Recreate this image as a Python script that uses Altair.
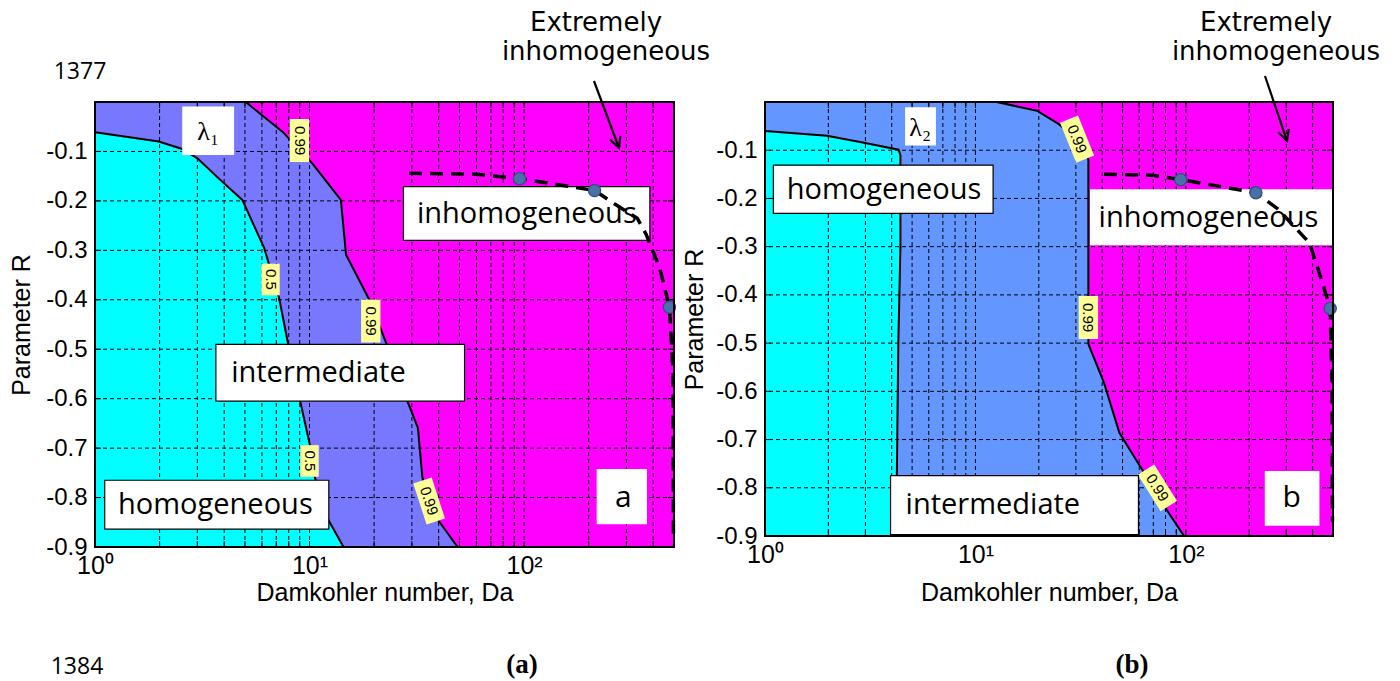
import altair as alt
import pandas as pd

# ---------------- values ----------------
# Panel (a): lambda_1 contour 0.5 (cyan | blue) and 0.99 (blue | magenta)
a_c05_R = [-0.061, -0.080, -0.095, -0.114, -0.155, -0.198, -0.295, -0.396, -0.490, -0.598, -0.699, -0.760, -0.847, -0.900]
a_c05_Da = [1.00, 1.98, 2.55, 3.00, 3.78, 4.86, 6.14, 7.21, 7.95, 8.97, 10.1, 10.6, 12.3, 14.4]
a_c99_R = [0.000, -0.060, -0.124, -0.198, -0.309, -0.400, -0.490, -0.590, -0.659, -0.760, -0.827, -0.900]
a_c99_Da = [5.04, 7.48, 10.3, 14.0, 14.8, 19.0, 22.9, 27.7, 32.0, 33.6, 37.0, 49.0]
# "extremely inhomogeneous" boundary (dashed) and its marked points
a_ext_Da = [29.1, 60.0, 95.3, 213, 266, 337, 371, 429, 476, 494, 497]
a_ext_R = [-0.144, -0.146, -0.155, -0.179, -0.207, -0.235, -0.268, -0.336, -0.415, -0.540, -0.880]
a_pts_Da = [95.3, 213, 476]
a_pts_R = [-0.155, -0.179, -0.415]
a_lab_txt = ["0.99", "0.5", "0.99", "0.5", "0.99"]
a_lab_Da = [8.98, 6.58, 19.3, 10.0, 36.1]
a_lab_R = [-0.078, -0.359, -0.443, -0.726, -0.807]
a_lab_ang = [90, 90, 90, 90, 72]

# Panel (b): lambda_2
b_c05_R = [-0.060, -0.070, -0.084, -0.099, -0.110, -0.300, -0.500, -0.700, -0.900]
b_c05_Da = [1.00, 1.97, 2.91, 4.31, 4.40, 4.40, 4.30, 4.25, 4.20]
b_c99_R = [0.000, -0.018, -0.046, -0.080, -0.119, -0.300, -0.502, -0.582, -0.686, -0.769, -0.845, -0.900]
b_c99_Da = [12.6, 19.6, 24.9, 31.0, 34.4, 34.4, 34.4, 40.8, 48.3, 63.3, 80.8, 98.0]
b_ext_Da = [40.8, 70.0, 94.5, 215, 274, 386, 425, 485, 495, 497]
b_ext_R = [-0.150, -0.152, -0.161, -0.188, -0.222, -0.292, -0.347, -0.428, -0.590, -0.870]
b_pts_Da = [94.5, 215, 485]
b_pts_R = [-0.161, -0.188, -0.428]
b_lab_txt = ["0.99", "0.99", "0.99"]
b_lab_Da = [30.4, 34.4, 73.2]
b_lab_R = [-0.077, -0.447, -0.800]
b_lab_ang = [68, 90, 58]

# axes
x_major = [1, 10, 100]
x_minor = [2, 3, 4, 5, 6, 7, 8, 9, 10, 20, 30, 40, 50, 60, 70, 80, 90, 100, 200, 300, 400]
y_ticks = [-0.9, -0.8, -0.7, -0.6, -0.5, -0.4, -0.3, -0.2, -0.1]
y_grid = [-0.8, -0.7, -0.6, -0.5, -0.4, -0.3, -0.2, -0.1]

# annotation boxes in data coordinates: (Da1, Da2, R1, R2, bordered)
a_boxes = [(2.55, 4.45, -0.009, -0.107, False), (27.4, 386, -0.171, -0.280, True),
           (3.66, 52.8, -0.490, -0.605, True), (1.11, 12.3, -0.765, -0.864, True),
           (218, 374, -0.742, -0.854, False)]
a_texts = [("λ₁", 3.37, -0.060, 26), ("inhomogeneous", 103, -0.226, 29),
           ("intermediate", 11.0, -0.548, 29), ("homogeneous", 3.64, -0.815, 29), ("a", 290, -0.800, 30)]
b_boxes = [(4.63, 6.49, -0.011, -0.090, False), (1.096, 12.13, -0.131, -0.231, True),
           (35.0, 500, -0.181, -0.297, False), (3.95, 59.5, -0.775, -0.897, True),
           (237, 431, -0.765, -0.879, False)]
b_texts = [("λ₂", 5.46, -0.053, 26), ("homogeneous", 3.68, -0.182, 29), ("inhomogeneous", 128, -0.240, 29),
           ("intermediate", 12.1, -0.836, 29), ("b", 318, -0.822, 30)]

CYAN = "#00FFFF"
MAGENTA = "#FF00FF"
BLUE_A = "#7878FF"
BLUE_B = "#6496FF"
YELLOW = "#FFFF99"
SANS = "Liberation Sans, Arial, sans-serif"
BOXF = "Open Sans, sans-serif"

XS = alt.Scale(type="log", domain=[1, 500], nice=False)
YS = alt.Scale(domain=[-0.9, 0], nice=False, zero=False)

SHAPE_LONG = "M-1,-0.45L1,-0.45L1,0.45L-1,0.45Z"
SHAPE_SHORT = "M-1,-0.58L1,-0.58L1,0.58L-1,0.58Z"
ARROW_V = "M-0.5,-1L0,0L0.5,-1"


def one():
    return pd.DataFrame({"k": [0]})


def txt(t, px, py, size, font, weight="normal", align="center", baseline="alphabetic"):
    return alt.Chart(pd.DataFrame({"t": [t]})).mark_text(
        fontSize=size, font=font, fontWeight=weight, align=align, baseline=baseline, color="black"
    ).encode(x=alt.value(px), y=alt.value(py), text="t:N")


def panel(W, H, blue, c05R, c05D, c99R, c99D, extD, extR, ptD, ptR, labT, labD, labR, labA,
          boxes, texts, tag, ytitle_x, xtitle_y, arrow, anchor):
    xaxis = alt.Axis(values=x_major, grid=False, ticks=False, domain=False,
                     labelExpr="datum.value == 1 ? '10⁰' : (datum.value == 10 ? '10¹' : '10²')",
                     labelFont=SANS, labelFontSize=25, labelColor="black", labelPadding=6,
                     labelBaseline="top", labelFlush=False, labelOverlap=False,
                     title="Damkohler number, Da", titleFont=SANS, titleFontSize=25,
                     titleFontWeight="normal", titleColor="black", titleY=xtitle_y,
                     titleBaseline="alphabetic")
    yaxis = alt.Axis(values=y_ticks, grid=False, ticks=False, domain=False,
                     labelExpr="'-' + format(abs(datum.value), '.1f')",
                     labelFont=SANS, labelFontSize=24, labelColor="black", labelPadding=8,
                     labelFlush=False, labelOverlap=False,
                     title="Parameter R", titleFont=SANS, titleFontSize=25, titleFontWeight="normal",
                     titleColor="black", titleX=ytitle_x, titleY=H / 2, titleAngle=270,
                     titleAlign="center", titleBaseline="alphabetic")

    d99 = pd.DataFrame({"R": c99R, "Da": c99D, "base": 1.0, "i": range(len(c99R))})
    d05 = pd.DataFrame({"R": c05R, "Da": c05D, "base": 1.0, "i": range(len(c05R))})

    layers = []
    # magenta background (whole plot area)
    layers.append(alt.Chart(one()).mark_rect(fill=MAGENTA, opacity=1).encode(
        x=alt.value(0), x2=alt.value(W), y=alt.value(0), y2=alt.value(H)))
    # blue region (between left edge and the 0.99 contour)
    layers.append(alt.Chart(d99).mark_area(orient="horizontal", color=blue, opacity=1).encode(
        y=alt.Y("R:Q", scale=YS, axis=yaxis), x=alt.X("Da:Q", scale=XS, axis=xaxis), x2="base:Q"))
    # cyan region (left of the 0.5 contour)
    layers.append(alt.Chart(d05).mark_area(orient="horizontal", color=CYAN, opacity=1).encode(
        y=alt.Y("R:Q", scale=YS), x=alt.X("Da:Q", scale=XS), x2="base:Q"))
    # dashed grid
    layers.append(alt.Chart(pd.DataFrame({"g": x_minor})).mark_rule(
        color="black", strokeWidth=1, strokeDash=[4, 3]).encode(x=alt.X("g:Q", scale=XS)))
    layers.append(alt.Chart(pd.DataFrame({"g": y_grid})).mark_rule(
        color="black", strokeWidth=1, strokeDash=[4, 3]).encode(y=alt.Y("g:Q", scale=YS)))
    # inward tick marks
    tx = pd.DataFrame({"g": x_minor})
    ty = pd.DataFrame({"g": y_ticks[1:]})
    for (a, b) in [(H, H - 6), (0, 6)]:
        layers.append(alt.Chart(tx).mark_rule(color="black", strokeWidth=1).encode(
            x=alt.X("g:Q", scale=XS), y=alt.value(a), y2=alt.value(b)))
    for (a, b) in [(0, 6), (W, W - 6)]:
        layers.append(alt.Chart(ty).mark_rule(color="black", strokeWidth=1).encode(
            y=alt.Y("g:Q", scale=YS), x=alt.value(a), x2=alt.value(b)))
    # contour lines
    for d in (d99, d05):
        layers.append(alt.Chart(d).mark_line(color="black", strokeWidth=2).encode(
            x=alt.X("Da:Q", scale=XS), y=alt.Y("R:Q", scale=YS), order="i:Q"))
    # contour labels
    lab = pd.DataFrame({"t": labT, "Da": labD, "R": labR, "ang": labA})
    lab["shape"] = [SHAPE_LONG if len(s) > 3 else SHAPE_SHORT for s in labT]
    lab["sz"] = [1850 if len(s) > 3 else 1000 for s in labT]
    layers.append(alt.Chart(lab).mark_point(filled=True, fill=YELLOW, opacity=1, strokeWidth=0).encode(
        x=alt.X("Da:Q", scale=XS), y=alt.Y("R:Q", scale=YS),
        shape=alt.Shape("shape:N", scale=None), size=alt.Size("sz:Q", scale=None),
        angle=alt.Angle("ang:Q", scale=None)))
    layers.append(alt.Chart(lab).mark_text(fontSize=15, font=SANS, color="black").encode(
        x=alt.X("Da:Q", scale=XS), y=alt.Y("R:Q", scale=YS), text="t:N",
        angle=alt.Angle("ang:Q", scale=None)))
    # white annotation boxes
    bx = pd.DataFrame(boxes, columns=["x1", "x2", "y1", "y2", "border"])
    for border, sw in [(True, 1.2), (False, 0)]:
        sub = bx[bx["border"] == border]
        layers.append(alt.Chart(sub).mark_rect(fill="white", stroke="black", strokeWidth=sw,
                                               strokeOpacity=1 if border else 0).encode(
            x=alt.X("x1:Q", scale=XS), x2="x2:Q", y=alt.Y("y1:Q", scale=YS), y2="y2:Q"))
    tdf = pd.DataFrame(texts, columns=["t", "Da", "R", "fs"])
    for fs in sorted(set(tdf["fs"])):
        sub = tdf[tdf["fs"] == fs]
        font = "Liberation Serif, serif" if fs == 26 else BOXF
        layers.append(alt.Chart(sub).mark_text(fontSize=int(fs), font=font, color="black",
                                               baseline="middle").encode(
            x=alt.X("Da:Q", scale=XS), y=alt.Y("R:Q", scale=YS), text="t:N"))
    # dashed "extremely inhomogeneous" boundary and its points
    ext = pd.DataFrame({"Da": extD, "R": extR, "i": range(len(extD))})
    layers.append(alt.Chart(ext).mark_line(color="black", strokeWidth=3.5, strokeDash=[13, 8]).encode(
        x=alt.X("Da:Q", scale=XS), y=alt.Y("R:Q", scale=YS), order="i:Q"))
    pts = pd.DataFrame({"Da": ptD, "R": ptR})
    layers.append(alt.Chart(pts).mark_circle(size=150, color="#4A70A8", opacity=1,
                                             stroke="#2F4F7F", strokeWidth=1.2).encode(
        x=alt.X("Da:Q", scale=XS), y=alt.Y("R:Q", scale=YS)))
    # frame
    layers.append(alt.Chart(one()).mark_rect(fillOpacity=0, stroke="black", strokeWidth=2).encode(
        x=alt.value(0), x2=alt.value(W), y=alt.value(0), y2=alt.value(H)))
    # outside annotations
    layers.append(txt("Extremely", 501, -71, 26, "DejaVu Sans"))
    layers.append(txt("inhomogeneous", 511, -42, 26, "DejaVu Sans"))
    (x1, y1, x2, y2, ang) = arrow
    layers.append(alt.Chart(one()).mark_rule(color="black", strokeWidth=2.2).encode(
        x=alt.value(x1), y=alt.value(y1), x2=alt.value(x2), y2=alt.value(y2)))
    layers.append(alt.Chart(one()).mark_point(shape=ARROW_V, filled=False, color="black",
                                              strokeWidth=2.2, size=480, angle=ang, opacity=1).encode(
        x=alt.value(x2), y=alt.value(y2)))
    layers.append(txt(tag[0], tag[1], 571, 27, "Liberation Serif, serif", weight="bold"))
    if anchor:
        layers.append(txt("1377", -15, -23, 23, BOXF))
        layers.append(txt("1384", -18, 572, 23, BOXF))
        layers.append(alt.Chart(one()).mark_rect(opacity=0).encode(
            x=alt.value(-85), x2=alt.value(-84), y=alt.value(-93), y2=alt.value(-92)))
    return alt.layer(*layers).properties(width=W, height=H)


pa = panel(579, 445, BLUE_A, a_c05_R, a_c05_Da, a_c99_R, a_c99_Da, a_ext_Da, a_ext_R,
           a_pts_Da, a_pts_R, a_lab_txt, a_lab_Da, a_lab_R, a_lab_ang, a_boxes, a_texts,
           ("(a)", 427), -66, 53, (499, -21, 524, 46, 339.5), True)
pb = panel(568, 434, BLUE_B, b_c05_R, b_c05_Da, b_c99_R, b_c99_Da, b_ext_Da, b_ext_R,
           b_pts_Da, b_pts_R, b_lab_txt, b_lab_Da, b_lab_R, b_lab_ang, b_boxes, b_texts,
           ("(b)", 367), -63, 64, (500, -26, 522, 39, 341.8), False)

chart = alt.hconcat(pa, pb, spacing=91, bounds="flush").resolve_scale(
    x="independent", y="independent").properties(
    padding={"left": 0, "top": 0, "right": 5, "bottom": 5}
).configure_view(strokeWidth=0).configure(background="white")

chart.save("out.html", embed_options={"renderer": "svg", "actions": False})
